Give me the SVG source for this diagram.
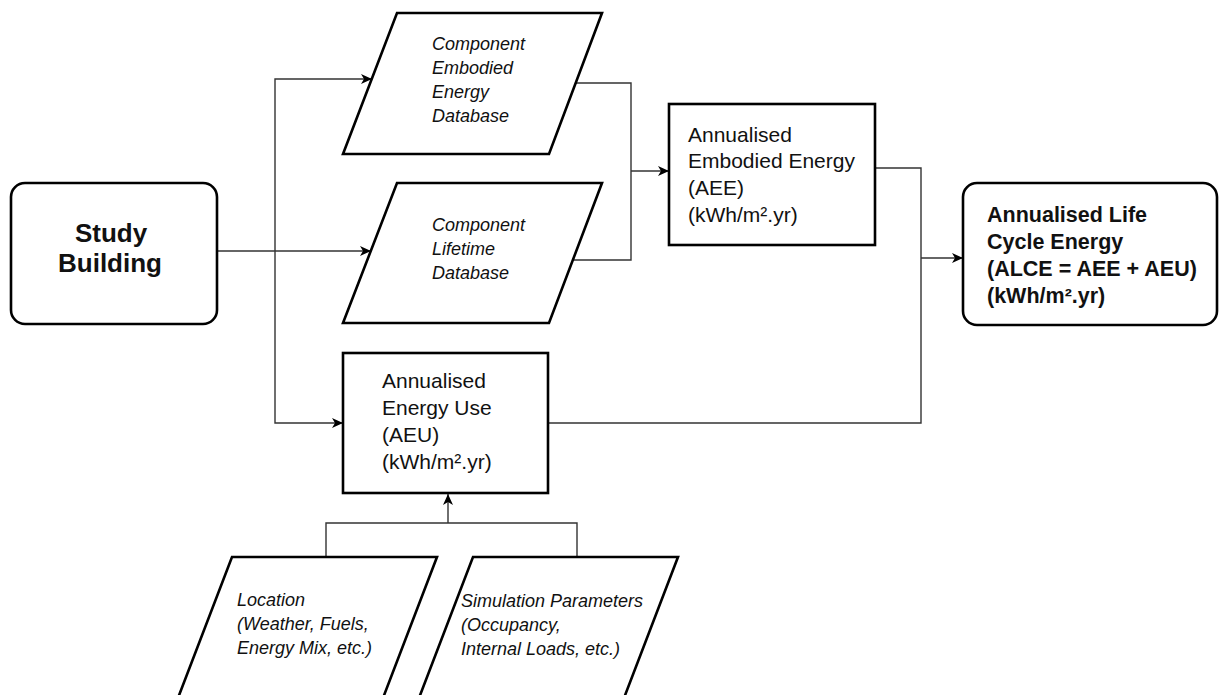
<svg xmlns="http://www.w3.org/2000/svg" width="1220" height="695" viewBox="0 0 1220 695">
<defs>
<marker id="arr" markerUnits="userSpaceOnUse" markerWidth="12" markerHeight="10" refX="11" refY="5" orient="auto">
<path d="M0,0 L11,5 L0,10 L3,5 Z" fill="#000"/>
</marker>
<style>
.box{fill:#fff;stroke:#000;stroke-width:2.6}
.con{fill:none;stroke:#333;stroke-width:1.4}
.arr{marker-end:url(#arr)}
.t{font-family:"Liberation Sans",Arial,sans-serif;fill:#111}
.reg{font-size:21px}
.it{font-size:18px;font-style:italic}
.bold{font-weight:bold;font-size:21.5px}
.big{font-weight:bold;font-size:26px}
</style>
</defs>
<rect width="1220" height="695" fill="#fff"/>
<g id="connectors">
<path class="con arr" d="M217,251 H371"/>
<path class="con arr" d="M275,251 V79 H372"/>
<path class="con arr" d="M275,251 V423 H343"/>
<path class="con" d="M576,83 H631 V260 H573"/>
<path class="con arr" d="M631,171 H669"/>
<path class="con" d="M875,168 H921 V423 H548"/>
<path class="con arr" d="M921,258 H963"/>
<path class="con" d="M326,557 V523 H577 V557"/>
<path class="con arr" d="M448,523 V494"/>
</g>
<g id="study">
<rect class="box" x="11" y="183" width="206" height="141" rx="14"/>
<text class="t big" text-anchor="middle"><tspan x="111" y="242">Study</tspan><tspan x="110" y="272">Building</tspan></text>
</g>
<g id="embodied-db">
<polygon class="box" points="397,13 602,13 549,154 343,154"/>
<text class="t it"><tspan x="432" y="50">Component</tspan><tspan x="432" y="74">Embodied</tspan><tspan x="432" y="98">Energy</tspan><tspan x="432" y="122">Database</tspan></text>
</g>
<g id="lifetime-db">
<polygon class="box" points="397,183 602,183 549,323 343,323"/>
<text class="t it"><tspan x="432" y="231">Component</tspan><tspan x="432" y="255">Lifetime</tspan><tspan x="432" y="279">Database</tspan></text>
</g>
<g id="aee">
<rect class="box" x="669" y="104" width="206" height="141"/>
<text class="t reg"><tspan x="688" y="142">Annualised</tspan><tspan x="688" y="168">Embodied Energy</tspan><tspan x="688" y="195">(AEE)</tspan><tspan x="688" y="222">(kWh/m².yr)</tspan></text>
</g>
<g id="aeu">
<rect class="box" x="343" y="353" width="205" height="140"/>
<text class="t reg"><tspan x="382" y="388">Annualised</tspan><tspan x="382" y="415">Energy Use</tspan><tspan x="382" y="442">(AEU)</tspan><tspan x="382" y="469">(kWh/m².yr)</tspan></text>
</g>
<g id="alce">
<rect class="box" x="963" y="183" width="254" height="142" rx="14"/>
<text class="t bold"><tspan x="987" y="222">Annualised Life</tspan><tspan x="987" y="249">Cycle Energy</tspan><tspan x="987" y="276">(ALCE = AEE + AEU)</tspan><tspan x="987" y="303">(kWh/m².yr)</tspan></text>
</g>
<g id="location">
<polygon class="box" points="232,557 437,557 383,698 178,698"/>
<text class="t it"><tspan x="237" y="606">Location</tspan><tspan x="237" y="630">(Weather, Fuels,</tspan><tspan x="237" y="654">Energy Mix, etc.)</tspan></text>
</g>
<g id="simulation">
<polygon class="box" points="473,557 678,557 624,698 419,698"/>
<text class="t it"><tspan x="461" y="607">Simulation Parameters</tspan><tspan x="461" y="631">(Occupancy,</tspan><tspan x="461" y="655">Internal Loads, etc.)</tspan></text>
</g>
</svg>
